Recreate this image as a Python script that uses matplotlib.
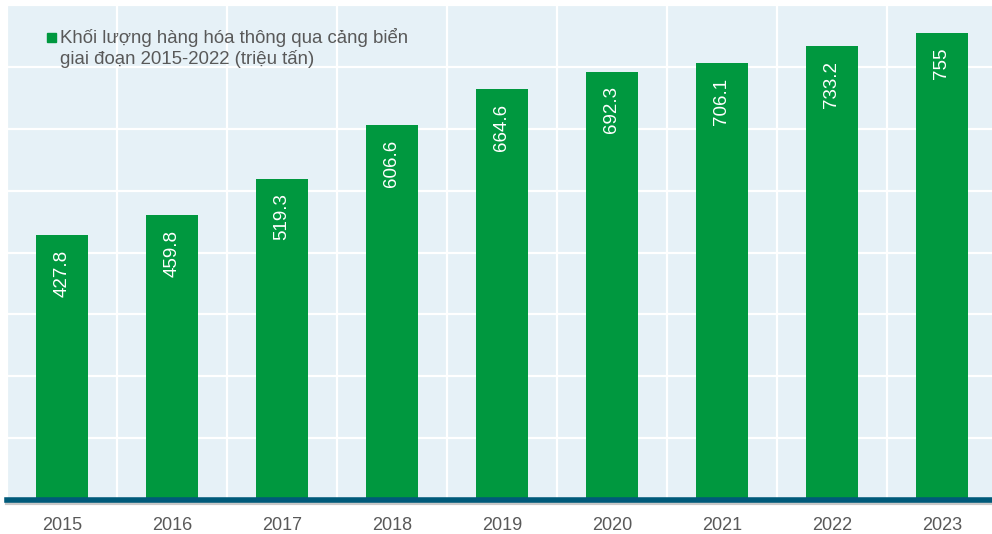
import matplotlib.pyplot as plt

years = ["2015", "2016", "2017", "2018", "2019", "2020", "2021", "2022", "2023"]
values = [427.8, 459.8, 519.3, 606.6, 664.6, 692.3, 706.1, 733.2, 755]
value_labels = ["427.8", "459.8", "519.3", "606.6", "664.6", "692.3", "706.1", "733.2", "755"]
legend_text = "Khối lượng hàng hóa thông qua cảng biển\ngiai đoạn 2015-2022 (triệu tấn)"

green = "#00983f"
bg = "#e6f1f7"
grey_txt = "#595959"

plt.rcParams['font.family'] = ['Liberation Sans', 'DejaVu Sans']

fig = plt.figure(figsize=(9.92, 5.34), dpi=100)
ax = fig.add_axes([7/992, 1 - 500/534, 990/992, 495/534])
ax.set_facecolor(bg)

x = list(range(len(years)))
ax.bar(x, values, width=0.47, color=green, zorder=3)

for i in range(len(years)):
    ax.text(x[i], values[i] - 24, value_labels[i], rotation=90, color="white",
            ha="center", va="top", fontsize=13.5, zorder=4)

ax.set_xlim(-0.5, 8.5)
ax.set_ylim(0, 800)
ax.set_yticks(range(0, 801, 100))
ax.set_xticks([i + 0.5 for i in range(-1, 9)], minor=True)
ax.set_xticks(x)
ax.set_xticklabels(years, fontsize=13, color=grey_txt)
ax.tick_params(axis="x", which="both", length=0, pad=12)
ax.tick_params(axis="y", length=0, labelleft=False)
ax.grid(True, axis="y", color="white", linewidth=1.6, zorder=1)
ax.grid(True, axis="x", which="minor", color="white", linewidth=1.6, zorder=1)

for s in ["top", "right", "left"]:
    ax.spines[s].set_visible(False)
ax.spines["bottom"].set_color("#005a7a")
ax.spines["bottom"].set_linewidth(4)
ax.spines["bottom"].set_zorder(5)

# soft shadow under the base line
ax.axhline(-5.5, color="#c8c8c8", linewidth=3, clip_on=False, zorder=2)

# legend
fig.patches.append(plt.Rectangle((47/992, 1 - 42/534), 9/992, 9/534,
                                 transform=fig.transFigure, color=green))
fig.text(60/992, 1 - 28/534, legend_text, fontsize=13.4, color=grey_txt,
         va="top", ha="left", linespacing=1.22)

plt.savefig("out.png", dpi=100)
